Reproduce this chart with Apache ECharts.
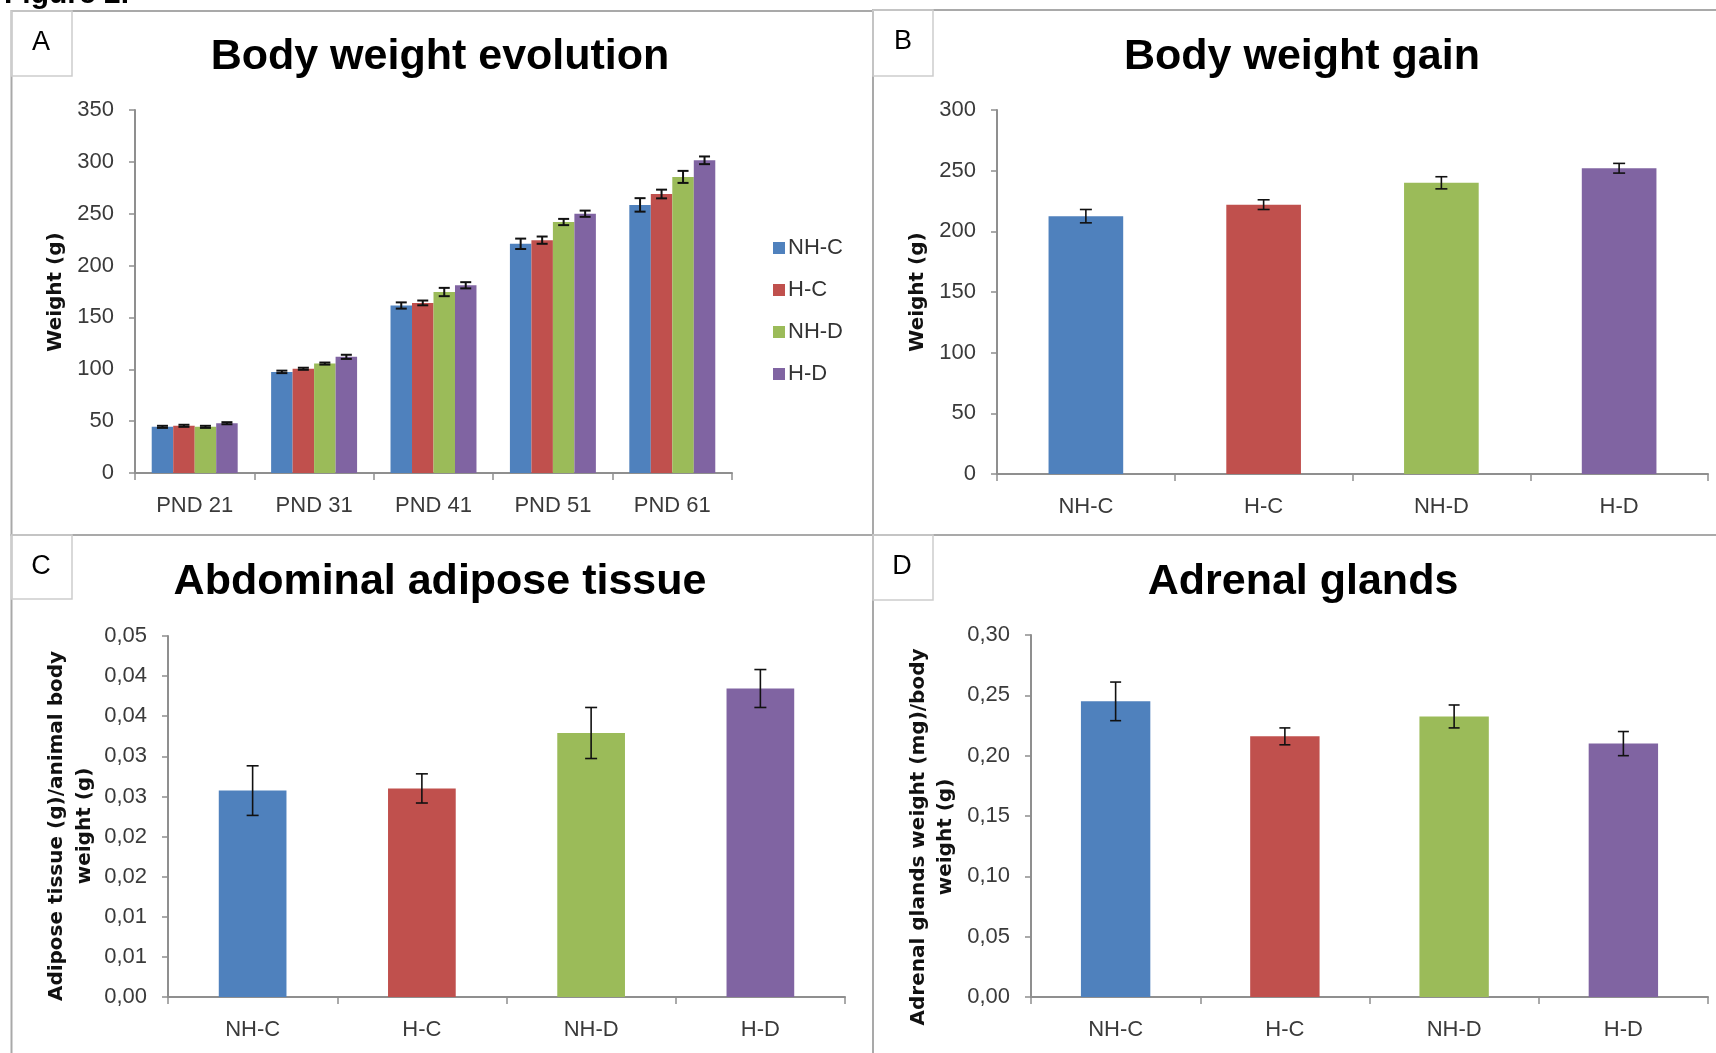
<!DOCTYPE html>
<html>
<head>
<meta charset="utf-8">
<script src="https://cdn.jsdelivr.net/npm/echarts@6/dist/echarts.min.js"></script>
<style>
html,body{margin:0;padding:0;background:#fff;}
#chart{width:1716px;height:1053px;}
</style>
</head>
<body>
<div id="chart"></div>
<script>
// ---------- DATA ----------
const groupNames = ['NH-C', 'H-C', 'NH-D', 'H-D'];
const groupColors = ['#4F81BD', '#C0504D', '#9BBB59', '#8064A2'];

// Panel A: body weight evolution (g)
const pndDays = ['PND 21', 'PND 31', 'PND 41', 'PND 51', 'PND 61'];
const evoNHC = [44.5, 97.5, 161.5, 221, 258.5];
const evoHC  = [45.5, 100.5, 164, 224.5, 269];
const evoNHD = [44.5, 105.5, 174.5, 242, 285.5];
const evoHD  = [48, 112, 181, 250, 301.5];
const evoErrNHC = [1, 1.2, 3, 5, 6.5];
const evoErrHC  = [1, 1, 2.3, 3.5, 4.2];
const evoErrNHD = [1, 1, 4, 3, 5.8];
const evoErrHD  = [1, 2, 3, 3, 3.7];

// Panel B: body weight gain (g)
const gainValues = [212.5, 222, 240, 252];
const gainErr = [5.5, 4, 5, 4];

// Panel C: abdominal adipose tissue (g / body weight g)
const adiposeValues = [0.0283, 0.0286, 0.0362, 0.0423];
const adiposeErr = [0.0034, 0.0020, 0.0035, 0.0026];
const adiposeTicks = ['0,00', '0,01', '0,01', '0,02', '0,02', '0,03', '0,03', '0,04', '0,04', '0,05'];
const adiposeStep = 0.0055;

// Panel D: adrenal glands (mg / body weight g)
const adrenalValues = [0.245, 0.216, 0.2325, 0.210];
const adrenalErr = [0.016, 0.007, 0.0095, 0.010];
const adrenalTicks = ['0,00', '0,05', '0,10', '0,15', '0,20', '0,25', '0,30'];
const adrenalStep = 0.05;

// ---------- CHART ----------
const FONT = '"Liberation Sans", Arial, sans-serif';
const AXIS_FONT = '"DejaVu Sans", Verdana, sans-serif';
const axisColor = '#8f8f8f';
const labelColor = '#3a3a3a';

function valueAxis(gridIndex, max, interval, formatter) {
  return {
    type: 'value', gridIndex: gridIndex, min: 0, max: max, interval: interval,
    axisLine: {show: true, lineStyle: {color: axisColor, width: 2}},
    axisTick: {show: true, inside: false, length: 6, lineStyle: {color: axisColor, width: 1.5}},
    splitLine: {show: false},
    axisLabel: {color: labelColor, fontFamily: FONT, fontSize: 22, margin: 21, padding: [3, 0, 0, 0], formatter: formatter}
  };
}
function catAxis(gridIndex, cats) {
  return {
    type: 'category', gridIndex: gridIndex, data: cats,
    axisLine: {show: true, lineStyle: {color: axisColor, width: 2}},
    axisTick: {show: true, inside: false, length: 7, lineStyle: {color: axisColor, width: 1.5}},
    axisLabel: {color: labelColor, fontFamily: FONT, fontSize: 22, margin: 22, interval: 0},
    splitLine: {show: false}
  };
}

function errorRenderer(nSeries, seriesIdx, gapFrac, capW, lw) {
  return function (params, api) {
    const cat = api.value(0), v = api.value(1), e = api.value(2);
    const c = api.coord([cat, v]);
    const band = api.size([1, 0])[0];
    let x = c[0];
    if (nSeries > 1) {
      const bw = band * (1 - gapFrac) / nSeries;
      x = c[0] + (seriesIdx - (nSeries - 1) / 2) * bw;
    }
    const yTop = api.coord([cat, v + e])[1];
    const yBot = api.coord([cat, v - e])[1];
    const st = {stroke: '#111', lineWidth: lw};
    return {type: 'group', children: [
      {type: 'line', shape: {x1: x, y1: yTop, x2: x, y2: yBot}, style: st},
      {type: 'line', shape: {x1: x - capW / 2, y1: yTop, x2: x + capW / 2, y2: yTop}, style: st},
      {type: 'line', shape: {x1: x - capW / 2, y1: yBot, x2: x + capW / 2, y2: yBot}, style: st}
    ]};
  };
}

const series = [];
// Panel A
const evoSets = [evoNHC, evoHC, evoNHD, evoHD];
const evoErrs = [evoErrNHC, evoErrHC, evoErrNHD, evoErrHD];
const gapA = 0.28;
evoSets.forEach(function (vals, i) {
  series.push({
    name: groupNames[i], type: 'bar', xAxisIndex: 0, yAxisIndex: 0,
    data: vals, barGap: '0%', barCategoryGap: (gapA * 100) + '%',
    itemStyle: {color: groupColors[i]}, z: 2
  });
});
evoSets.forEach(function (vals, i) {
  series.push({
    name: 'err ' + groupNames[i], type: 'custom', xAxisIndex: 0, yAxisIndex: 0,
    renderItem: errorRenderer(4, i, gapA, 11, 2),
    data: vals.map(function (v, k) { return [k, v, evoErrs[i][k]]; }), z: 5
  });
});

function singlePanel(idx, vals, errs, gapFrac, capW) {
  series.push({
    name: 'panel' + idx, type: 'bar', xAxisIndex: idx, yAxisIndex: idx,
    barCategoryGap: (gapFrac * 100) + '%',
    data: vals.map(function (v, k) { return {value: v, itemStyle: {color: groupColors[k]}}; }), z: 2
  });
  series.push({
    name: 'panel' + idx + ' err', type: 'custom', xAxisIndex: idx, yAxisIndex: idx,
    renderItem: errorRenderer(1, 0, gapFrac, capW, 1.6),
    data: vals.map(function (v, k) { return [k, v, errs[k]]; }), z: 5
  });
}
singlePanel(1, gainValues, gainErr, 0.58, 12);
singlePanel(2, adiposeValues, adiposeErr, 0.60, 12);
singlePanel(3, adrenalValues, adrenalErr, 0.59, 11);

function txt(x, y, text, size, weight, extra) {
  const o = {
    type: 'text', x: x, y: y, z: 10,
    style: Object.assign({
      text: text, fill: '#000', fontSize: size, fontWeight: weight, fontFamily: FONT,
      align: 'center', verticalAlign: 'middle'
    }, extra && extra.style || {})
  };
  if (extra && extra.rotation !== undefined) o.rotation = extra.rotation;
  return o;
}
function rect(x, y, w, h, stroke, lw) {
  return {type: 'rect', z: 1, shape: {x: x, y: y, width: w, height: h},
          style: {fill: 'none', stroke: stroke, lineWidth: lw}};
}

const panelStroke = '#a9a9a9';
const boxStroke = '#cdcdcd';
const graphics = [
  // panel frames
  rect(11.5, 11, 861.5, 524, panelStroke, 2),
  rect(873, 10, 900, 525, panelStroke, 2),
  rect(11.5, 535, 861.5, 600, panelStroke, 2),
  rect(873, 535, 900, 600, panelStroke, 2),
  // panel letter boxes
  rect(11.5, 11, 60.5, 65, boxStroke, 1.5),
  rect(873, 10, 60, 66, boxStroke, 1.5),
  rect(11.5, 535, 60.5, 64, boxStroke, 1.5),
  rect(873, 535, 60, 65, boxStroke, 1.5),
  txt(41, 42.5, 'A', 27, 'normal'),
  txt(903, 42, 'B', 27, 'normal'),
  txt(41, 567, 'C', 27, 'normal'),
  txt(902, 567, 'D', 27, 'normal'),
  // figure caption (cut off at the top)
  {type: 'text', x: 4, y: -5, z: 10, style: {text: 'Figure 2.', fill: '#000', fontSize: 30, fontWeight: 'bold',
    fontFamily: FONT, align: 'left', verticalAlign: 'middle'}},
  // panel titles
  txt(440, 57, 'Body weight evolution', 43, 'bold'),
  txt(1302, 57, 'Body weight gain', 43, 'bold'),
  txt(440, 582, 'Abdominal adipose tissue', 43, 'bold'),
  txt(1303, 582, 'Adrenal glands', 43, 'bold'),
  // y-axis titles
  txt(56, 292, 'Weight (g)', 20, 'bold', {rotation: Math.PI / 2, style: {fontFamily: AXIS_FONT, fill: '#111'}}),
  txt(918, 292, 'Weight (g)', 20, 'bold', {rotation: Math.PI / 2, style: {fontFamily: AXIS_FONT, fill: '#111'}}),
  txt(71, 826, 'Adipose tissue (g)/animal body\nweight (g)', 20, 'bold',
      {rotation: Math.PI / 2, style: {fontFamily: AXIS_FONT, fill: '#111', lineHeight: 28}}),
  txt(932, 837, 'Adrenal glands weight (mg)/body\nweight (g)', 20, 'bold',
      {rotation: Math.PI / 2, style: {fontFamily: AXIS_FONT, fill: '#111', lineHeight: 27}})
];

const option = {
  animation: false,
  backgroundColor: '#ffffff',
  grid: [
    {left: 135, top: 110, width: 597, height: 363},
    {left: 997, top: 110, width: 711, height: 364},
    {left: 168, top: 636, width: 677, height: 361},
    {left: 1031, top: 635, width: 677, height: 362}
  ],
  xAxis: [catAxis(0, pndDays), catAxis(1, groupNames), catAxis(2, groupNames), catAxis(3, groupNames)],
  yAxis: [
    valueAxis(0, 350, 50),
    valueAxis(1, 300, 50),
    valueAxis(2, 0.0495, adiposeStep, function (v) { return adiposeTicks[Math.round(v / adiposeStep)]; }),
    valueAxis(3, 0.30, adrenalStep, function (v) { return adrenalTicks[Math.round(v / adrenalStep)]; })
  ],
  legend: {
    data: groupNames, orient: 'vertical', left: 768, top: 232,
    itemWidth: 12, itemHeight: 12, itemGap: 20, icon: 'rect',
    textStyle: {fontFamily: FONT, fontSize: 22, color: '#333', lineHeight: 22, padding: [0, 0, 0, -2]},
    selectedMode: false
  },
  graphic: graphics,
  series: series
};

const chart = echarts.init(document.getElementById('chart'), null, {renderer: 'canvas'});
chart.setOption(option);
</script>
</body>
</html>
